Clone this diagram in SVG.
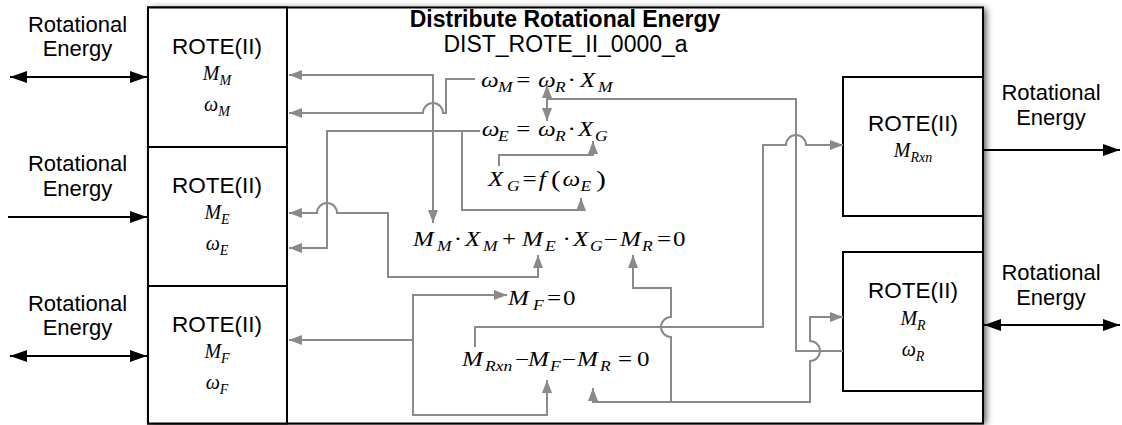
<svg xmlns="http://www.w3.org/2000/svg" width="1122" height="425" viewBox="0 0 1122 425">
<style>
.box{fill:#fff;stroke:#000;stroke-width:2}
.sans{font-family:"Liberation Sans",Arial,sans-serif;font-size:22.5px;fill:#000}
.lbl{font-family:"Liberation Sans",Arial,sans-serif;font-size:22px;fill:#000;text-anchor:middle}
.title{font-family:"Liberation Sans",Arial,sans-serif;font-size:23px;font-weight:bold;text-anchor:middle}
.id{font-family:"Liberation Sans",Arial,sans-serif;font-size:23px;text-anchor:middle}
.mi{font-family:"Liberation Serif","Times New Roman",serif;font-size:20px;font-style:italic;fill:#000}
.sub{font-size:14px}
.up{font-style:normal}
.par{font-style:normal;font-size:23px}
.gc{fill:none;stroke:#8a8a8a;stroke-width:2}
.bc{fill:none;stroke:#000;stroke-width:2}
</style>
<defs>
<filter id="shadow" x="-5%" y="-5%" width="110%" height="110%">
<feGaussianBlur in="SourceAlpha" stdDeviation="3.5"/>
<feOffset dx="3" dy="1" result="b"/>
<feComponentTransfer><feFuncA type="linear" slope="0.7"/></feComponentTransfer>
</filter>
<marker id="ga" viewBox="0 0 13 10" refX="13" refY="5" markerWidth="13" markerHeight="10" markerUnits="userSpaceOnUse" orient="auto-start-reverse"><path d="M0,0 L13,5 L0,10 z" fill="#8a8a8a"/></marker>
<marker id="ba" viewBox="0 0 17 12" refX="17" refY="6" markerWidth="17" markerHeight="12" markerUnits="userSpaceOnUse" orient="auto-start-reverse"><path d="M0,0 L17,6 L0,12 z" fill="#000"/></marker>
</defs>

<g id="block">
<rect x="148" y="7.5" width="835" height="416" fill="#000" filter="url(#shadow)"/>
<rect x="148" y="7.5" width="835" height="416" class="box"/>
<text x="565" y="27" class="title">Distribute Rotational Energy</text>
<text x="565.5" y="52" class="id">DIST_ROTE_II_0000_a</text>
</g>

<g id="port-m">
<rect x="148" y="7.5" width="139" height="139.5" class="box"/>
<text x="217" y="53.5" class="sans" text-anchor="middle">ROTE(II)</text>
<text x="217" y="80" class="mi" text-anchor="middle">M<tspan class="sub" dy="5">M</tspan></text>
<text x="217" y="111" class="mi" text-anchor="middle">ω<tspan class="sub" dy="5">M</tspan></text>
</g>
<g id="port-e">
<rect x="148" y="147" width="139" height="139" class="box"/>
<text x="217" y="192.5" class="sans" text-anchor="middle">ROTE(II)</text>
<text x="217" y="219" class="mi" text-anchor="middle">M<tspan class="sub" dy="5">E</tspan></text>
<text x="217" y="250" class="mi" text-anchor="middle">ω<tspan class="sub" dy="5">E</tspan></text>
</g>
<g id="port-f">
<rect x="148" y="286" width="139" height="137.5" class="box"/>
<text x="217" y="331.5" class="sans" text-anchor="middle">ROTE(II)</text>
<text x="217" y="358" class="mi" text-anchor="middle">M<tspan class="sub" dy="5">F</tspan></text>
<text x="217" y="389" class="mi" text-anchor="middle">ω<tspan class="sub" dy="5">F</tspan></text>
</g>
<g id="port-rxn">
<rect x="843" y="77" width="140" height="139" class="box"/>
<text x="913" y="131" class="sans" text-anchor="middle">ROTE(II)</text>
<text x="913" y="157" class="mi" text-anchor="middle">M<tspan class="sub" dy="5">Rxn</tspan></text>
</g>
<g id="port-r">
<rect x="843" y="252" width="140" height="139" class="box"/>
<text x="913" y="298" class="sans" text-anchor="middle">ROTE(II)</text>
<text x="913" y="325" class="mi" text-anchor="middle">M<tspan class="sub" dy="5">R</tspan></text>
<text x="913" y="356" class="mi" text-anchor="middle">ω<tspan class="sub" dy="5">R</tspan></text>
</g>

<g id="labels">
<text class="lbl" x="77.5" y="32">Rotational</text>
<text class="lbl" x="77.5" y="56">Energy</text>
<text class="lbl" x="77.5" y="171">Rotational</text>
<text class="lbl" x="77.5" y="196">Energy</text>
<text class="lbl" x="77.5" y="311">Rotational</text>
<text class="lbl" x="77.5" y="335">Energy</text>
<text class="lbl" x="1051" y="100">Rotational</text>
<text class="lbl" x="1051" y="125">Energy</text>
<text class="lbl" x="1051" y="280">Rotational</text>
<text class="lbl" x="1051" y="305">Energy</text>
</g>

<g id="equations" transform="scale(1.25 1)">
<g id="eq1"><text class="mi"><tspan x="384.8" y="87">ω</tspan><tspan class="sub" x="398.4" y="92">M</tspan><tspan class="up" x="413" y="87">=</tspan><tspan x="430.4" y="87">ω</tspan><tspan class="sub" x="444" y="92">R</tspan><tspan class="up" x="454" y="87">·</tspan><tspan x="464" y="87">X</tspan><tspan class="sub" x="478.4" y="92">M</tspan></text></g>
<g id="eq2"><text class="mi"><tspan x="385.4" y="136">ω</tspan><tspan class="sub" x="398.4" y="141">E</tspan><tspan class="up" x="413" y="136">=</tspan><tspan x="430.4" y="136">ω</tspan><tspan class="sub" x="444" y="141">R</tspan><tspan class="up" x="454" y="136">·</tspan><tspan x="462.4" y="136">X</tspan><tspan class="sub" x="476" y="141">G</tspan></text></g>
<g id="eq3"><text class="mi"><tspan x="390.4" y="186">X</tspan><tspan class="sub" x="405.6" y="191">G</tspan><tspan class="up" x="418" y="186">=</tspan><tspan x="431" y="186">f</tspan><tspan class="par" x="440.8" y="187">(</tspan><tspan x="450" y="186">ω</tspan><tspan class="sub" x="464.5" y="191">E</tspan><tspan class="par" x="477" y="187">)</tspan></text></g>
<g id="eq4"><text class="mi"><tspan x="330.4" y="246">M</tspan><tspan class="sub" x="349.6" y="251">M</tspan><tspan class="up" x="363.1" y="246">·</tspan><tspan x="372" y="246">X</tspan><tspan class="sub" x="386.4" y="251">M</tspan><tspan class="up" x="401.6" y="246">+</tspan><tspan x="417.6" y="246">M</tspan><tspan class="sub" x="436" y="251">E</tspan><tspan class="up" x="450" y="246">·</tspan><tspan x="458.4" y="246">X</tspan><tspan class="sub" x="472" y="251">G</tspan><tspan class="up" x="483" y="246">−</tspan><tspan x="496" y="246">M</tspan><tspan class="sub" x="513.6" y="251">R</tspan><tspan class="up" x="525.6" y="246">=</tspan><tspan class="up" x="538.4" y="246">0</tspan></text></g>
<g id="eq5"><text class="mi"><tspan x="406.4" y="305">M</tspan><tspan class="sub" x="426.4" y="310">F</tspan><tspan class="up" x="437.6" y="305">=</tspan><tspan class="up" x="450.4" y="305">0</tspan></text></g>
<g id="eq6"><text class="mi"><tspan x="369.6" y="366">M</tspan><tspan class="sub" x="388" y="371">Rxn</tspan><tspan class="up" x="412" y="366">−</tspan><tspan x="422.4" y="366">M</tspan><tspan class="sub" x="440" y="371">F</tspan><tspan class="up" x="449.6" y="366">−</tspan><tspan x="461.6" y="366">M</tspan><tspan class="sub" x="480" y="371">R</tspan><tspan class="up" x="494.4" y="366">=</tspan><tspan class="up" x="509.6" y="366">0</tspan></text></g>
</g>

<g id="connectors">
<path class="bc" d="M10,77 H147" marker-start="url(#ba)" marker-end="url(#ba)"/>
<path class="bc" d="M8,217 H147" marker-end="url(#ba)"/>
<path class="bc" d="M10,356 H147" marker-start="url(#ba)" marker-end="url(#ba)"/>
<path class="bc" d="M984,150 H1120" marker-end="url(#ba)"/>
<path class="bc" d="M984,325 H1120" marker-start="url(#ba)" marker-end="url(#ba)"/>

<path class="gc" d="M289,75 H433 V223" marker-start="url(#ga)" marker-end="url(#ga)"/>
<path class="gc" d="M475,79 H446 V113 H443 A10,10 0 0 0 423,113 H289" marker-end="url(#ga)"/>
<path class="gc" d="M480,131 H327 V248 H289" marker-end="url(#ga)"/>
<path class="gc" d="M462,131 V210 H581 V198" marker-end="url(#ga)"/>
<path class="gc" d="M499,166 V155 H593 V141" marker-end="url(#ga)"/>
<path class="gc" d="M843,351 H796 V99 H547"/>
<path class="gc" d="M547,99 V85" marker-end="url(#ga)"/>
<path class="gc" d="M547,99 V121" marker-end="url(#ga)"/>
<path class="gc" d="M475,347 V327 H763 V145 H786 A10,10 0 0 1 806,145 H843" marker-end="url(#ga)"/>
<path class="gc" d="M671,402 V337 A10,10 0 0 1 671,317 V288 H633 V255" marker-end="url(#ga)"/>
<path class="gc" d="M671,402 H593 V388" marker-end="url(#ga)"/>
<path class="gc" d="M671,402 H810 V361 A10,10 0 0 0 810,341 V317 H843" marker-end="url(#ga)"/>
<path class="gc" d="M289,213 H317 A10,10 0 0 1 337,213 H388 V277 H538 V255" marker-start="url(#ga)" marker-end="url(#ga)"/>
<path class="gc" d="M507,295 H413 V415 H547 V380" marker-start="url(#ga)" marker-end="url(#ga)"/>
<path class="gc" d="M413,340 H289" marker-end="url(#ga)"/>
</g>
</svg>
